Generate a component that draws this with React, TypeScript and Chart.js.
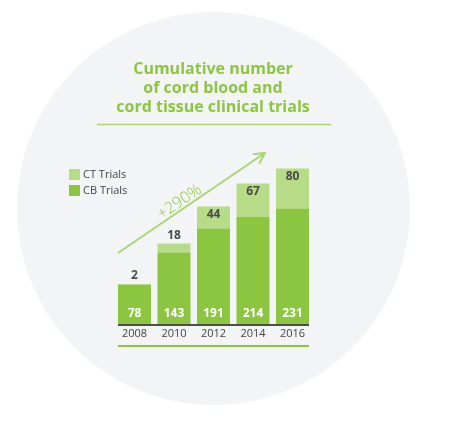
import { useEffect, useRef } from "react";
import { Chart, registerables } from "chart.js";

Chart.register(...registerables);

// data
const years = ["2008", "2010", "2012", "2014", "2016"];
const cbTrials = [78, 143, 191, 214, 231];
const ctTrials = [2, 18, 44, 67, 80];
const seriesNames = ["CB Trials", "CT Trials"];
const titleLines = ["Cumulative number", "of cord blood and", "cord tissue clinical trials"];
const growthLabel = "+290%";

const CB_GREEN = "#8cc540";
const CT_GREEN = "#b7dc88";
const TITLE_GREEN = "#8cc63f";
const LINE_GREEN = "#a9d672";
const DARK = "#444444";
const FONT = "'Open Sans', sans-serif";

const decor = {
  id: "decor",
  beforeDraw(chart: any) {
    const ctx = chart.ctx;
    ctx.save();
    ctx.fillStyle = "#ffffff";
    ctx.fillRect(0, 0, chart.width, chart.height);
    ctx.fillStyle = "#f3f4f5";
    ctx.beginPath();
    ctx.arc(213.5, 208.5, 196.5, 0, Math.PI * 2);
    ctx.fill();

    // title
    ctx.fillStyle = TITLE_GREEN;
    ctx.font = `bold 16px ${FONT}`;
    ctx.textAlign = "center";
    ctx.textBaseline = "middle";
    titleLines.forEach((t, i) => ctx.fillText(t, 213, 69 + i * 19));
    ctx.strokeStyle = LINE_GREEN;
    ctx.lineWidth = 1.5;
    ctx.beginPath();
    ctx.moveTo(97, 124.5);
    ctx.lineTo(331, 124.5);
    ctx.stroke();

    // legend (CT first, like the picture)
    const items = [
      { name: seriesNames[1], color: CT_GREEN },
      { name: seriesNames[0], color: CB_GREEN },
    ];
    ctx.font = `11px ${FONT}`;
    ctx.textAlign = "left";
    items.forEach((it, i) => {
      const y = 169 + i * 16;
      ctx.fillStyle = it.color;
      ctx.fillRect(69, y, 11, 11);
      ctx.fillStyle = DARK;
      ctx.fillText(it.name, 83, y + 6);
    });
    ctx.restore();
  },
  afterDatasetsDraw(chart: any) {
    const ctx = chart.ctx;
    const x = chart.scales.x;
    const y = chart.scales.y;
    const cb = chart.getDatasetMeta(0).data;
    const ct = chart.getDatasetMeta(1).data;
    const area = chart.chartArea;
    ctx.save();

    // baseline + bottom rule spanning the bars
    const left = cb[0].x - cb[0].width / 2;
    const right = cb[cb.length - 1].x + cb[cb.length - 1].width / 2;
    ctx.strokeStyle = "#4d4d4d";
    ctx.lineWidth = 2;
    ctx.beginPath();
    ctx.moveTo(left, area.bottom + 1);
    ctx.lineTo(right, area.bottom + 1);
    ctx.stroke();
    ctx.strokeStyle = TITLE_GREEN;
    ctx.beginPath();
    ctx.moveTo(left, area.bottom + 22);
    ctx.lineTo(right, area.bottom + 22);
    ctx.stroke();

    // value labels
    ctx.textAlign = "center";
    ctx.textBaseline = "middle";
    ctx.font = `bold 12px ${FONT}`;
    ctx.fillStyle = "#ffffff";
    cb.forEach((bar: any, i: number) => ctx.fillText(String(cbTrials[i]), bar.x, area.bottom - 10));
    ctx.fillStyle = "#4a4a4a";
    ct.forEach((bar: any, i: number) => {
      const h = bar.base - bar.y;
      const ly = h > 20 ? bar.y + 8 : bar.y - 8;
      ctx.fillText(String(ctTrials[i]), bar.x, ly);
    });

    // growth arrow
    const x0 = x.getPixelForValue(-0.42);
    const y0 = y.getPixelForValue(142);
    const x1 = x.getPixelForValue(3.3);
    const y1 = y.getPixelForValue(342);
    const ang = Math.atan2(y1 - y0, x1 - x0);
    ctx.strokeStyle = LINE_GREEN;
    ctx.lineWidth = 2;
    ctx.beginPath();
    ctx.moveTo(x0, y0);
    ctx.lineTo(x1, y1);
    ctx.moveTo(x1 - 12 * Math.cos(ang - 0.5), y1 - 12 * Math.sin(ang - 0.5));
    ctx.lineTo(x1, y1);
    ctx.lineTo(x1 - 12 * Math.cos(ang + 0.5), y1 - 12 * Math.sin(ang + 0.5));
    ctx.stroke();

    ctx.save();
    ctx.translate(x0 + (x1 - x0) * 0.42, y0 + (y1 - y0) * 0.42 - 9);
    ctx.rotate(ang);
    ctx.fillStyle = TITLE_GREEN;
    ctx.font = `300 16px ${FONT}`;
    ctx.fillText(growthLabel, 0, 0);
    ctx.restore();

    ctx.restore();
  },
};

export default function App() {
  const canvasRef = useRef<HTMLCanvasElement>(null);
  const chartRef = useRef<Chart | null>(null);

  useEffect(() => {
    if (chartRef.current) chartRef.current.destroy();
    chartRef.current = new Chart(canvasRef.current!, {
      type: "bar",
      data: {
        labels: years,
        datasets: [
          { label: seriesNames[0], data: cbTrials, backgroundColor: CB_GREEN },
          { label: seriesNames[1], data: ctTrials, backgroundColor: CT_GREEN },
        ],
      },
      options: {
        responsive: false,
        animation: false,
        devicePixelRatio: 1,
        layout: { padding: { left: 114.75, right: 148.75, top: 149, bottom: 81.8 } },
        datasets: { bar: { barPercentage: 0.835, categoryPercentage: 1 } },
        plugins: { legend: { display: false }, tooltip: { enabled: false } },
        scales: {
          x: {
            stacked: true,
            grid: { display: false, drawTicks: false },
            border: { display: false },
            ticks: { color: DARK, font: { family: FONT, size: 11 }, padding: 3 },
          },
          y: { stacked: true, display: false, min: 0, max: 350 },
        },
      },
      plugins: [decor],
    });
    return () => {
      if (chartRef.current) {
        chartRef.current.destroy();
        chartRef.current = null;
      }
    };
  }, []);

  return (
    <div style={{ position: "fixed", left: 0, top: 0, width: 461, height: 425 }}>
      <canvas ref={canvasRef} width={461} height={425} />
    </div>
  );
}
